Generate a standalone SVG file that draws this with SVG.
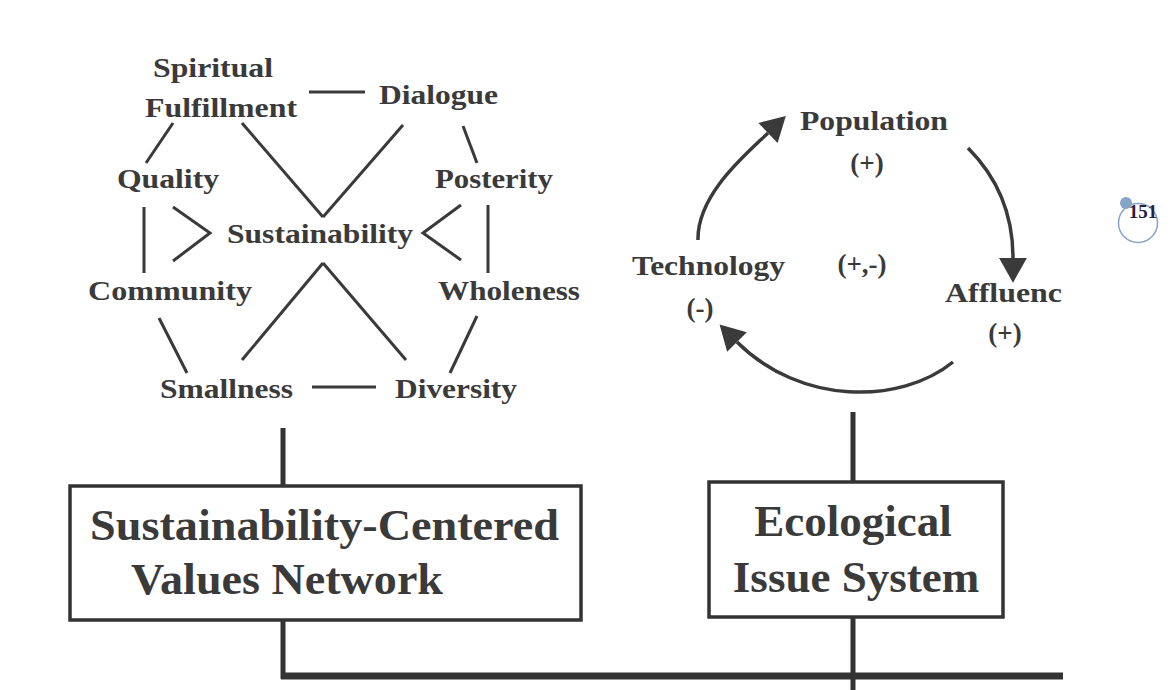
<svg xmlns="http://www.w3.org/2000/svg" width="1170" height="690" viewBox="0 0 1170 690">
<style>
.t{font-family:"Liberation Serif","Times New Roman",serif;font-weight:bold;fill:#3a3a3a;}
.s{font-size:28px;}
.r{font-size:27px;}
.b{font-size:45px;}
.ln{stroke:#3a3a3a;stroke-width:3;fill:none;stroke-linecap:butt;}
.arc{stroke:#3a3a3a;stroke-width:3.5;fill:none;marker-end:url(#ah);}
.bar{stroke:#333;fill:none;}
.box{fill:#fff;stroke:#333;stroke-width:3.5;}
</style>
<defs>
<marker id="ah" markerUnits="userSpaceOnUse" markerWidth="30" markerHeight="30" viewBox="0 -14 24 28" refX="0" refY="0" orient="auto">
<path d="M0,-13 L23,0 L0,13 Z" fill="#3a3a3a"/>
</marker>
</defs>
<rect x="0" y="0" width="1170" height="690" fill="#fff"/>

<g id="connectors">
<line class="ln" x1="309" y1="92" x2="365" y2="92"/>
<line class="ln" x1="173" y1="123" x2="146" y2="163"/>
<line class="ln" x1="242" y1="123" x2="323" y2="217"/>
<line class="ln" x1="403" y1="125" x2="323" y2="217"/>
<line class="ln" x1="463" y1="126" x2="477" y2="163"/>
<line class="ln" x1="144" y1="207" x2="144" y2="273"/>
<polyline class="ln" points="173,207 210,233 173,261"/>
<polyline class="ln" points="461,205 423,233 461,260"/>
<line class="ln" x1="488" y1="205" x2="488" y2="273"/>
<line class="ln" x1="323" y1="263" x2="242" y2="360"/>
<line class="ln" x1="323" y1="263" x2="406" y2="360"/>
<line class="ln" x1="159" y1="318" x2="187" y2="373"/>
<line class="ln" x1="477" y1="316" x2="450" y2="373"/>
<line class="ln" x1="312" y1="387" x2="376" y2="387"/>
<path class="arc" d="M698,240 C697,195 745,155 768,133"/>
<path class="arc" d="M968,148 C995,175 1013,210 1013,258"/>
<path class="arc" d="M953,362 C900,405 800,405 737,342"/>
<line class="bar" stroke-width="5" x1="283" y1="428" x2="283" y2="487"/>
<line class="bar" stroke-width="5" x1="853" y1="412" x2="853" y2="483"/>
<line class="bar" stroke-width="5" x1="283" y1="620" x2="283" y2="679"/>
<line class="bar" stroke-width="5" x1="853" y1="617" x2="853" y2="690"/>
<line class="bar" stroke-width="7" x1="281" y1="676" x2="1063" y2="676"/>
</g>

<g id="spiritual-fulfillment">
<text class="t s" x="153" y="77" textLength="120" lengthAdjust="spacingAndGlyphs">Spiritual</text>
<text class="t s" x="145" y="117" textLength="152" lengthAdjust="spacingAndGlyphs">Fulfillment</text>
</g>
<g id="dialogue"><text class="t s" x="379" y="104" textLength="119" lengthAdjust="spacingAndGlyphs">Dialogue</text></g>
<g id="quality"><text class="t s" x="117" y="188" textLength="102" lengthAdjust="spacingAndGlyphs">Quality</text></g>
<g id="posterity"><text class="t s" x="435" y="188" textLength="118" lengthAdjust="spacingAndGlyphs">Posterity</text></g>
<g id="sustainability"><text class="t s" x="227" y="243" textLength="186" lengthAdjust="spacingAndGlyphs">Sustainability</text></g>
<g id="community"><text class="t s" x="88" y="300" textLength="164" lengthAdjust="spacingAndGlyphs">Community</text></g>
<g id="wholeness"><text class="t s" x="438" y="300" textLength="142" lengthAdjust="spacingAndGlyphs">Wholeness</text></g>
<g id="smallness"><text class="t s" x="160" y="398" textLength="133" lengthAdjust="spacingAndGlyphs">Smallness</text></g>
<g id="diversity"><text class="t s" x="395" y="398" textLength="122" lengthAdjust="spacingAndGlyphs">Diversity</text></g>

<g id="population">
<text class="t r" x="800" y="130" textLength="148" lengthAdjust="spacingAndGlyphs">Population</text>
<text class="t r" x="867" y="172" text-anchor="middle">(+)</text>
</g>
<g id="technology">
<text class="t r" x="632" y="275" textLength="153" lengthAdjust="spacingAndGlyphs">Technology</text>
<text class="t r" x="700" y="317" text-anchor="middle">(-)</text>
</g>
<g id="affluence">
<text class="t r" x="945" y="302" textLength="117" lengthAdjust="spacingAndGlyphs">Affluenc</text>
<text class="t r" x="1005" y="342" text-anchor="middle">(+)</text>
</g>
<g id="center-sign"><text class="t r" x="862" y="273" text-anchor="middle">(+,-)</text></g>

<g id="values-network-box">
<rect class="box" x="70" y="486" width="511" height="134"/>
<text class="t b" x="90" y="540" textLength="469" lengthAdjust="spacingAndGlyphs">Sustainability-Centered</text>
<text class="t b" x="131" y="594" textLength="312" lengthAdjust="spacingAndGlyphs">Values Network</text>
</g>
<g id="ecological-box">
<rect class="box" x="709" y="482" width="294" height="135"/>
<text class="t b" x="853" y="536" text-anchor="middle">Ecological</text>
<text class="t b" x="856" y="592" text-anchor="middle">Issue System</text>
</g>

<g id="page-number">
<circle cx="1138" cy="223" r="19.5" fill="#fff" stroke="#86a4c8" stroke-width="1.5"/>
<circle cx="1126" cy="203" r="6" fill="#86a4c8"/>
<text x="1143" y="218" text-anchor="middle" font-family="Liberation Serif, serif" font-weight="bold" font-size="19" fill="#2a2140">151</text>
</g>
</svg>
